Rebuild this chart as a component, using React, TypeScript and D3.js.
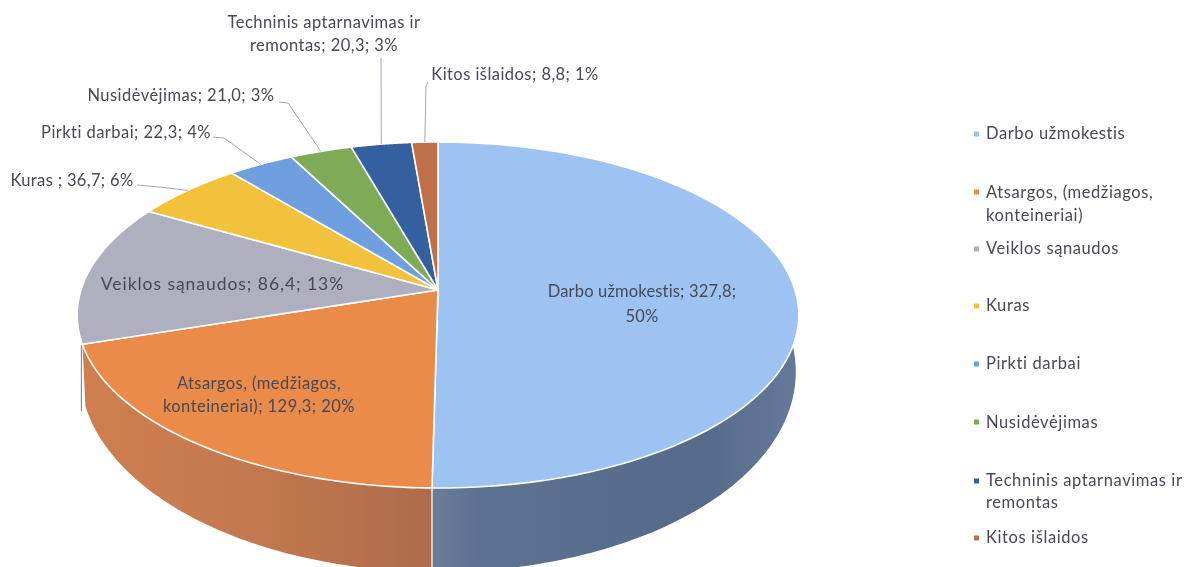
import React from "react";
import * as d3 from "d3";

const categories = ["Darbo užmokestis","Atsargos, (medžiagos, konteineriai)","Veiklos sąnaudos","Kuras","Pirkti darbai","Nusidėvėjimas","Techninis aptarnavimas ir remontas","Kitos išlaidos"];
const values = [327.8,129.3,86.4,36.7,22.3,21.0,20.3,8.8];
const topColors = ["#9dc3f3","#ea8b48","#aeb0c0","#f2c23e","#6f9fdf","#7fab57","#34619f","#bf6f48"];
const wallFrom = ["#5c7190","#ad6c4b"];
const wallTo = ["#66799a","#cf7f50"];
const legendLines = [["Darbo užmokestis"],["Atsargos, (medžiagos,","konteineriai)"],["Veiklos sąnaudos"],["Kuras"],["Pirkti darbai"],["Nusidėvėjimas"],["Techninis aptarnavimas ir","remontas"],["Kitos išlaidos"]];
const legendBaselines = [[139],[198,221],[254],[311],[369],[428],[486,508],[543]];
const legendMarks = [134,192,249,306,364,422,481,538];

// layout of the tilted disc (perspective projection of a unit circle)
const cx = 438, cy = 290, k = 0.1445, ax = 357, ay = 169.4;
const project = (a: number): [number, number] => {
  const x = Math.sin(a), y = -Math.cos(a), w = 1 - k * y;
  return [cx + ax * x / w, cy + ay * y / w];
};
const upper = { x: 438, y: 315, rx: 361, ry: 173 };
const lower = { x: 438, y: 372, rx: 358, ry: 200 };
const toLower = ([px, py]: [number, number]): [number, number] => [
  lower.x + (px - upper.x) / upper.rx * lower.rx,
  lower.y + (py - upper.y) / upper.ry * lower.ry,
];
const line = d3.line<[number, number]>().x(d => d[0]).y(d => d[1]);
const slices = d3.pie<number>().sort(null)(values);
const sweep = (a0: number, a1: number) => d3.range(0, 81).map(i => a0 + (a1 - a0) * i / 80);

type Label = { lines: string[]; x: number; ys: number[]; leader?: [number, number][]; slice?: number; spacing?: number; size?: number };
const labels: Label[] = [
  { lines: ["Darbo užmokestis; 327,8;", "50%"], x: 642, ys: [297, 322], spacing: 0.16 },
  { lines: ["Atsargos, (medžiagos,", "konteineriai); 129,3; 20%"], x: 259, ys: [389, 412] },
  { lines: ["Veiklos sąnaudos; 86,4; 13%"], x: 222.5, ys: [290], spacing: 0.95, size: 17.5 },
  { lines: ["Kuras ; 36,7; 6%"], x: 72, ys: [186], slice: 3, leader: [[137, 185], [160, 187]], spacing: 0.35 },
  { lines: ["Pirkti darbai; 22,3; 4%"], x: 126, ys: [138], slice: 4, leader: [[213, 137], [224, 138]] },
  { lines: ["Nusidėvėjimas; 21,0; 3%"], x: 181, ys: [101], slice: 5, leader: [[279, 102], [288, 103]] },
  { lines: ["Techninis aptarnavimas ir", "remontas; 20,3; 3%"], x: 324, ys: [28, 51], slice: 6, leader: [[381, 58]] },
  { lines: ["Kitos išlaidos; 8,8; 1%"], x: 515, ys: [80], slice: 7, leader: [[428, 82], [426, 86]] },
];
const textFill = "#474957";
const font = "Lato, 'Open Sans', sans-serif";

export default function App() {
  const walls = [0, 1].map(i => {
    const s = slices[i];
    // only the part of each slice that faces the viewer has a wall
    const a0 = Math.max(s.startAngle, Math.PI / 2);
    const a1 = Math.min(s.endAngle, Math.PI * 1.5);
    const top = sweep(a0, a1).map(project);
    const bottom = top.map(toLower).reverse();
    return line([...top, ...bottom])! + "Z";
  });
  const seam = project(slices[1].endAngle);
  const split = project(slices[0].endAngle);
  return (
    <svg width={1184} height={567} style={{ position: "absolute", left: 0, top: 0, background: "#fff" }}>
      <defs>
        <linearGradient id="wall0" x1="0" x2="1" y1="0" y2="0">
          <stop offset="0" stopColor="#6a7e9a" />
          <stop offset="0.12" stopColor={wallFrom[0]} />
          <stop offset="0.75" stopColor="#566b8a" />
          <stop offset="1" stopColor={wallTo[0]} />
        </linearGradient>
        <linearGradient id="wall1" x1="0" x2="1" y1="0" y2="0">
          <stop offset="0" stopColor={wallTo[1]} />
          <stop offset="0.5" stopColor="#c2784f" />
          <stop offset="1" stopColor={wallFrom[1]} />
        </linearGradient>
        <filter id="soft"><feGaussianBlur stdDeviation="0.4" /></filter>
      </defs>
      <g filter="url(#soft)">
        {walls.map((d, i) => <path key={i} d={d} fill={`url(#wall${i})`} />)}
        <line x1={seam[0] - 1} y1={seam[1] + 1} x2={seam[0] - 1} y2={seam[1] + 67} stroke="#6f8fb8" strokeWidth={1.2} />
        {slices.map((s, i) => (
          <path key={i}
            d={line([[cx, cy], ...sweep(s.startAngle, s.endAngle).map(project)])! + "Z"}
            fill={topColors[i]} stroke="#fff" strokeWidth={1.6} strokeLinejoin="round" />
        ))}
        <line x1={split[0]} y1={split[1]} x2={split[0]} y2={567} stroke="#e8e8ee" strokeWidth={1.5} />
        {labels.filter(l => l.leader).map((l, i) => {
          const s = slices[l.slice!];
          const end = project((s.startAngle + s.endAngle) / 2);
          return <path key={i} d={line([...l.leader!, end])!} fill="none" stroke="#a3a8b8" strokeWidth={1} />;
        })}
        {labels.map((l, i) => l.lines.map((t, j) => (
          <text key={`${i}-${j}`} x={l.x} y={l.ys[j]} textAnchor="middle"
            fontFamily={font} fontSize={l.size ?? 16.5} fill={textFill} letterSpacing={l.spacing ?? 0.45}>{t}</text>
        )))}
        {categories.map((c, i) => (
          <g key={c}>
            <rect x={974} y={legendMarks[i] - 2.5} width={5} height={5} fill={topColors[i]} />
            {legendLines[i].map((t, j) => (
              <text key={j} x={986} y={legendBaselines[i][j]} fontFamily={font} fontSize={16.5} fill={textFill} letterSpacing={0.6}>{t}</text>
            ))}
          </g>
        ))}
      </g>
    </svg>
  );
}
